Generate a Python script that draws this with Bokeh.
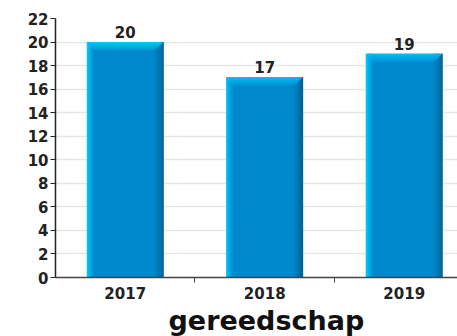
import numpy as np
from bokeh.plotting import figure
from bokeh.models import Range1d, FixedTicker, ColumnDataSource, Title
from bokeh.core.properties import value
from bokeh.embed import file_html
from bokeh.resources import INLINE

# ---- data ----
years = ["2017", "2018", "2019"]
counts = [20, 17, 19]
y_ticks = list(range(0, 23, 2))
x_title = "gereedschap"

FONT = "DejaVu Sans"
xc = np.arange(len(years)) + 0.5
vals = np.array(counts, dtype=float)
BAR_W = 0.55
PX_X = 1 / 139.5
PX_Y = 22 / 258

p = figure(width=457, height=336, x_range=Range1d(0, 2.882), y_range=Range1d(0, 22),
           output_backend="svg", toolbar_location=None,
           min_border_left=55, min_border_right=0, min_border_top=18, min_border_bottom=0)
p.outline_line_color = None
p.background_fill_color = "white"

# grid
p.xgrid.grid_line_color = None
p.ygrid.grid_line_color = "#e6e6e6"
p.ygrid.grid_line_width = 1.5
p.yaxis.ticker = FixedTicker(ticks=y_ticks)

# y axis
p.yaxis.axis_line_color = "#222222"
p.yaxis.axis_line_width = 1.5
p.yaxis.major_tick_line_color = "#222222"
p.yaxis.major_tick_out = 5
p.yaxis.major_tick_in = 0
p.yaxis.minor_tick_line_color = None
p.yaxis.major_label_text_font = FONT
p.yaxis.major_label_text_font_style = "bold"
p.yaxis.major_label_text_font_size = "15px"
p.yaxis.major_label_text_color = "#222222"
p.yaxis.major_label_standoff = 2

# x axis
p.xaxis.ticker = FixedTicker(ticks=list(xc), minor_ticks=list(np.arange(1, len(years))))
p.xaxis.major_label_overrides = {float(x): y for x, y in zip(xc, years)}
p.xaxis.major_tick_out = 0
p.xaxis.major_tick_in = 0
p.xaxis.minor_tick_out = 5
p.xaxis.minor_tick_in = 0
p.xaxis.minor_tick_line_color = "#444444"
p.xaxis.axis_line_color = "#444444"
p.xaxis.axis_line_width = 1.5
p.xaxis.major_label_text_font = FONT
p.xaxis.major_label_text_font_style = "bold"
p.xaxis.major_label_text_font_size = "15px"
p.xaxis.major_label_text_color = "#222222"
p.xaxis.major_label_standoff = 4

p.add_layout(Title(text=x_title, align="left", offset=113, standoff=2,
                   vertical_align="bottom",
                   text_font=FONT, text_font_style="bold", text_font_size="27px",
                   text_color="#111111"), "below")


def mix(c1, c2, t):
    a = [int(c1[i:i + 2], 16) for i in (1, 3, 5)]
    b = [int(c2[i:i + 2], 16) for i in (1, 3, 5)]
    return "#%02x%02x%02x" % tuple(int(round(a[k] + (b[k] - a[k]) * t)) for k in range(3))


MAIN = "#0088cc"
left = xc - BAR_W / 2
right = xc + BAR_W / 2

# main body
p.quad(left=left, right=right, bottom=0, top=vals, fill_color=MAIN, line_color=None)

# left highlight strips
NL = 7
for i in range(NL):
    c = mix("#00d0ff", MAIN, i / NL)
    p.quad(left=left + i * PX_X, right=left + (i + 1) * PX_X, bottom=0, top=vals,
           fill_color=c, line_color=None)
# right shadow strips
NR = 9
for i in range(NR):
    c = mix(MAIN, "#005f8f", (i + 1) / NR)
    p.quad(left=right - (NR - i) * PX_X, right=right - (NR - i - 1) * PX_X, bottom=0, top=vals,
           fill_color=c, line_color=None)

# top bevel band
NT = 8
for j in range(NT):
    c = mix("#00c4fa", "#0096d6", j / NT)
    xs, ys = [], []
    for k in range(len(vals)):
        y0 = vals[k] - j * PX_Y
        y1 = vals[k] - (j + 1) * PX_Y
        li0 = left[k] + (j / NT) * NL * PX_X
        li1 = left[k] + ((j + 1) / NT) * NL * PX_X
        ri0 = right[k] - (j / NT) * NR * PX_X
        ri1 = right[k] - ((j + 1) / NT) * NR * PX_X
        if j == 0:
            xs.append([li0 + 2 * PX_X, ri0 - 2 * PX_X, ri0, ri1, li1, li0])
            ys.append([y0, y0, y0 - 1.5 * PX_Y, y1, y1, y0 - 1.5 * PX_Y])
        else:
            xs.append([li0, ri0, ri1, li1])
            ys.append([y0, y0, y1, y1])
    p.patches(xs=xs, ys=ys, fill_color=c, line_color=None)

# value labels
src = ColumnDataSource(dict(x=xc, y=vals, t=[str(v) for v in counts]))
p.text(x="x", y="y", text="t", source=src, text_align="center", text_baseline="bottom",
       y_offset=-4, text_font=value(FONT), text_font_style="bold",
       text_font_size="15px", text_color="#222222")

open("out.html", "w").write(file_html(p, INLINE))
